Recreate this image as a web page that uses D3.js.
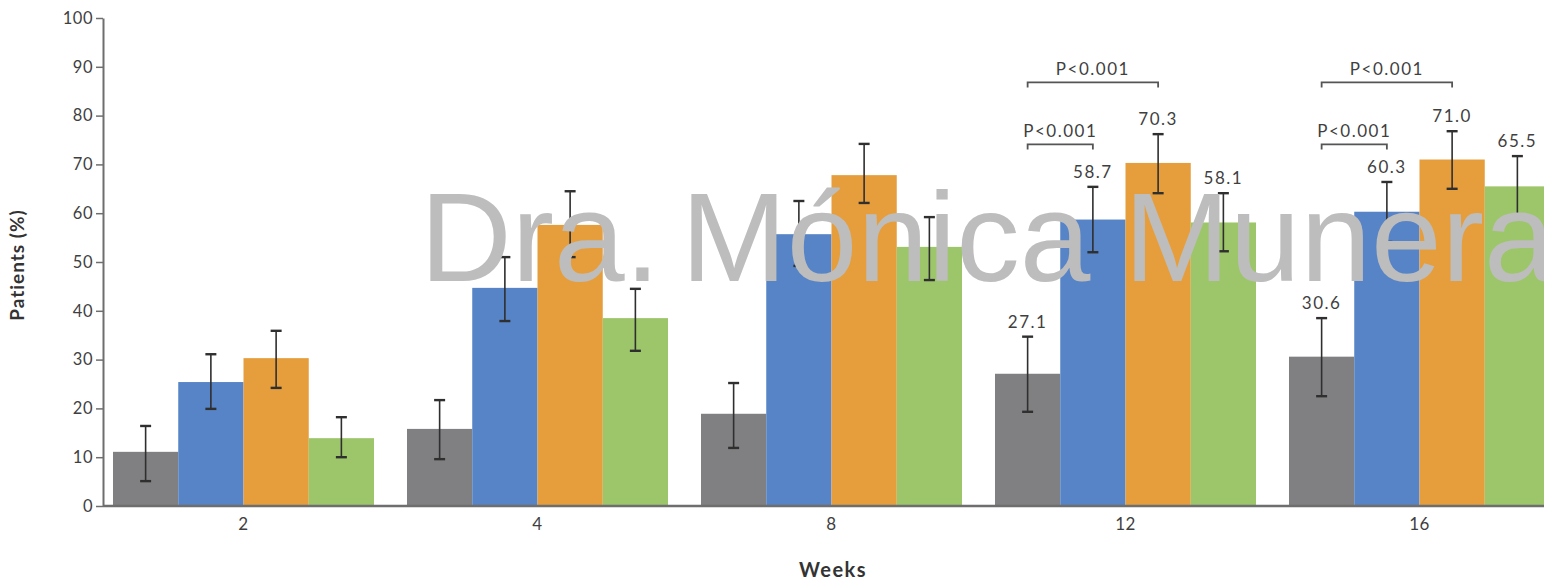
<!DOCTYPE html>
<html>
<head>
<meta charset="utf-8">
<script src="https://cdn.jsdelivr.net/npm/d3@7"></script>
<style>
  html, body { margin: 0; padding: 0; background: #fff; }
  svg { display: block; }
</style>
</head>
<body>
<svg id="chart" width="1544" height="580"></svg>
<script>
// ---- data ----
const weeks = ["2", "4", "8", "12", "16"];
const seriesNames = ["Placebo", "Dose A", "Dose B", "Dose C"];
const seriesColors = ["#808082", "#5784c6", "#e69e3c", "#9dc66b"];

const placeboVals = [11.1, 15.8, 18.9, 27.1, 30.6];
const doseAVals   = [25.4, 44.7, 55.7, 58.7, 60.3];
const doseBVals   = [30.3, 57.6, 67.8, 70.3, 71.0];
const doseCVals   = [13.9, 38.5, 53.1, 58.1, 65.5];

const placeboLo = [5.1, 9.6, 11.9, 19.3, 22.5];
const placeboHi = [16.4, 21.7, 25.2, 34.7, 38.5];
const doseALo   = [19.9, 37.9, 49.2, 52.0, 54.1];
const doseAHi   = [31.1, 51.0, 62.5, 65.4, 66.4];
const doseBLo   = [24.2, 51.0, 62.1, 64.1, 65.0];
const doseBHi   = [35.9, 64.5, 74.2, 76.2, 76.8];
const doseCLo   = [10.0, 31.8, 46.3, 52.2, 59.2];
const doseCHi   = [18.2, 44.5, 59.2, 64.1, 71.7];

const labelledWeeks = ["12", "16"];
const yTicks = [0, 10, 20, 30, 40, 50, 60, 70, 80, 90, 100];

// significance brackets: week, from series, to series, level (%), text
const bracketWeeks = ["12", "12", "16", "16"];
const bracketFrom  = [0, 0, 0, 0];
const bracketTo    = [1, 2, 1, 2];
const bracketLevel = [74.1, 86.8, 74.1, 86.8];
const bracketText  = ["P<0.001", "P<0.001", "P<0.001", "P<0.001"];

const watermarkWords = ["Dra.", "Mónica", "Munera"];

// ---- build ----
const vals = [placeboVals, doseAVals, doseBVals, doseCVals];
const los = [placeboLo, doseALo, doseBLo, doseCLo];
const his = [placeboHi, doseAHi, doseBHi, doseCHi];

const rows = [];
weeks.forEach((w, i) => {
  seriesNames.forEach((s, j) => {
    rows.push({ week: w, series: s, si: j, v: vals[j][i], lo: los[j][i], hi: his[j][i] });
  });
});

const svg = d3.select("#chart");
const txtColor = "#3f3f3f";
const font = "Lato, 'Open Sans', sans-serif";

const y = d3.scaleLinear().domain([0, 100]).range([506, 18]);
const x0 = d3.scaleBand().domain(weeks).range([96.5, 96.5 + 1470])
  .paddingInner(0.1122).paddingOuter(0.0561);
const x1 = d3.scaleBand().domain(seriesNames).range([0, x0.bandwidth()]);
const cx = d => x0(d.week) + x1(d.series) + x1.bandwidth() / 2;

// bars
svg.append("g").selectAll("rect").data(rows).join("rect")
  .attr("x", d => x0(d.week) + x1(d.series))
  .attr("y", d => y(d.v))
  .attr("width", x1.bandwidth())
  .attr("height", d => y(0) - y(d.v))
  .attr("fill", d => seriesColors[d.si]);

// error bars
const eb = svg.append("g").attr("stroke", "#2f2f2f").attr("stroke-width", 1.6);
eb.selectAll("line.v").data(rows).join("line").attr("class", "v")
  .attr("x1", cx).attr("x2", cx).attr("y1", d => y(d.lo)).attr("y2", d => y(d.hi));
eb.selectAll("line.t").data(rows).join("line").attr("class", "t")
  .attr("x1", d => cx(d) - 5.5).attr("x2", d => cx(d) + 5.5)
  .attr("y1", d => y(d.hi)).attr("y2", d => y(d.hi)).attr("stroke-width", 2.4);
eb.selectAll("line.b").data(rows).join("line").attr("class", "b")
  .attr("x1", d => cx(d) - 5.5).attr("x2", d => cx(d) + 5.5)
  .attr("y1", d => y(d.lo)).attr("y2", d => y(d.lo)).attr("stroke-width", 2.4);

// value labels
svg.append("g").selectAll("text").data(rows.filter(d => labelledWeeks.includes(d.week))).join("text")
  .attr("x", cx).attr("y", d => y(d.hi) - 9)
  .attr("text-anchor", "middle")
  .attr("font-family", font).attr("font-size", 17).attr("letter-spacing", 1.5).attr("fill", txtColor)
  .text(d => d.v.toFixed(1));

// brackets
const bg = svg.append("g");
bracketWeeks.forEach((w, k) => {
  const xa = x0(w) + x1(seriesNames[bracketFrom[k]]) + x1.bandwidth() / 2;
  const xb = x0(w) + x1(seriesNames[bracketTo[k]]) + x1.bandwidth() / 2;
  const yy = y(bracketLevel[k]);
  bg.append("path")
    .attr("d", `M${xa},${yy + 5}V${yy}H${xb}V${yy + 5}`)
    .attr("fill", "none").attr("stroke", "#555").attr("stroke-width", 1.8);
  bg.append("text")
    .attr("x", (xa + xb) / 2).attr("y", yy - 7)
    .attr("text-anchor", "middle")
    .attr("font-family", font).attr("font-size", 17).attr("letter-spacing", 1.5).attr("fill", txtColor)
    .text(bracketText[k]);
});

// y axis
const yAxis = svg.append("g").attr("transform", "translate(103,0)")
  .call(d3.axisLeft(y).tickValues(yTicks).tickSize(7).tickSizeOuter(0).tickPadding(3));
yAxis.select(".domain").attr("stroke", "#6e6e6e").attr("stroke-width", 2);
yAxis.selectAll(".tick line").attr("stroke", "#6e6e6e").attr("stroke-width", 1.5);
yAxis.selectAll(".tick text").attr("font-family", font).attr("font-size", 16.5)
  .attr("letter-spacing", 0.5).attr("fill", txtColor);

// x axis
const xAxis = svg.append("g").attr("transform", "translate(0,506)")
  .call(d3.axisBottom(x0).tickSize(0).tickPadding(12));
xAxis.select(".domain").attr("d", "M103,0H1544").attr("stroke", "#6e6e6e").attr("stroke-width", 2.5);
xAxis.selectAll(".tick text").attr("font-family", font).attr("font-size", 17)
  .attr("letter-spacing", 0.5).attr("fill", txtColor);

// axis titles
svg.append("text")
  .attr("transform", "translate(24,265) rotate(-90)")
  .attr("text-anchor", "middle")
  .attr("font-family", font).attr("font-weight", "bold").attr("font-size", 19)
  .attr("letter-spacing", 1).attr("fill", "#333")
  .text("Patients (%)");
svg.append("text")
  .attr("x", 833).attr("y", 577)
  .attr("text-anchor", "middle")
  .attr("font-family", font).attr("font-weight", "bold").attr("font-size", 20)
  .attr("letter-spacing", 1.5).attr("fill", "#333")
  .text("Weeks");

// watermark
const wmX = [420, 681, 1124];
const wm = svg.append("text")
  .attr("y", 281)
  .attr("font-family", "'Liberation Sans', Arial, sans-serif")
  .attr("font-size", 127).attr("fill", "#bdbdbd");
wm.selectAll("tspan").data(watermarkWords).join("tspan")
  .attr("x", (d, i) => wmX[i]).text(d => d);
</script>
</body>
</html>
